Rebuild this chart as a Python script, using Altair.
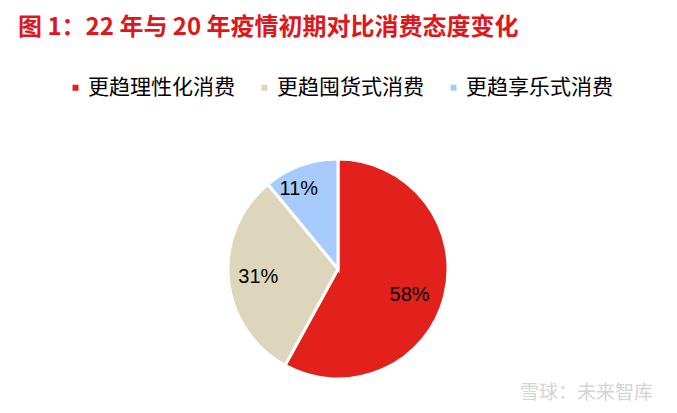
import altair as alt
import pandas as pd

categories = ["更趋理性化消费", "更趋囤货式消费", "更趋享乐式消费"]
values = [58, 31, 11]
labels = ["58%", "31%", "11%"]
colors = ["#E2211C", "#DED5BD", "#A8CBFE"]
label_radii = [76, 80, 89]
label_shift = [(-2, 7), (0, 0), (-9, 4)]

title_text = "图 1：22 年与 20 年疫情初期对比消费态度变化"
watermark = "雪球：未来智库"

df = pd.DataFrame({"cat": categories, "val": values, "label": labels,
                   "idx": list(range(len(categories)))})

CX, CY, R = 330, 261, 110

base = alt.Chart(df).transform_stack(
    stack="val", groupby=[], as_=["v0", "v1"],
    sort=[alt.SortField("idx", order="ascending")],
).transform_calculate(mid="(datum.v0 + datum.v1) / 2")

theta_scale = alt.Scale(domain=[0, 100])

pie = base.mark_arc(outerRadius=R, stroke="white", strokeWidth=3).encode(
    theta=alt.Theta("v0:Q", scale=theta_scale),
    theta2="v1:Q",
    x=alt.value(CX), y=alt.value(CY),
    color=alt.Color(
        "cat:N",
        scale=alt.Scale(domain=categories, range=colors),
        sort=categories,
        legend=alt.Legend(
            title=None, orient="none", direction="horizontal",
            legendX=57, legendY=69, symbolType="square", symbolSize=36,
            symbolStrokeWidth=0, labelFontSize=21, labelFont="Noto Sans CJK SC",
            labelColor="#000000", labelLimit=400, labelOffset=2,
            columnPadding=19, padding=0,
        ),
    ),
)

texts = []
for i, r in enumerate(label_radii):
    sx, sy = label_shift[i]
    texts.append(
        base.transform_filter(alt.datum.idx == i)
        .mark_text(radius=r, dx=sx, dy=sy, fontSize=20, font="Liberation Sans",
                   color="#000000")
        .encode(theta=alt.Theta("mid:Q", scale=theta_scale),
                x=alt.value(CX), y=alt.value(CY), text="label:N")
    )

title = alt.Chart(pd.DataFrame({"t": [title_text]})).mark_text(
    align="left", baseline="alphabetic", fontSize=24, fontWeight="bold",
    font="Noto Sans CJK SC", color="#E0161B"
).encode(x=alt.value(10), y=alt.value(27), text="t:N")

wm = alt.Chart(pd.DataFrame({"t": [watermark]})).mark_text(
    align="left", baseline="alphabetic", fontSize=19, font="Noto Sans CJK SC",
    color="#D4D4D4"
).encode(x=alt.value(512), y=alt.value(391), text="t:N")

chart = alt.layer(pie, *texts, title, wm).properties(
    width=655, height=395, autosize=alt.AutoSizeParams(type="none"), padding=0,
    background="white",
).configure_view(strokeWidth=0, stroke="transparent")

chart.save("out.html", embed_options={"renderer": "svg", "actions": False})
